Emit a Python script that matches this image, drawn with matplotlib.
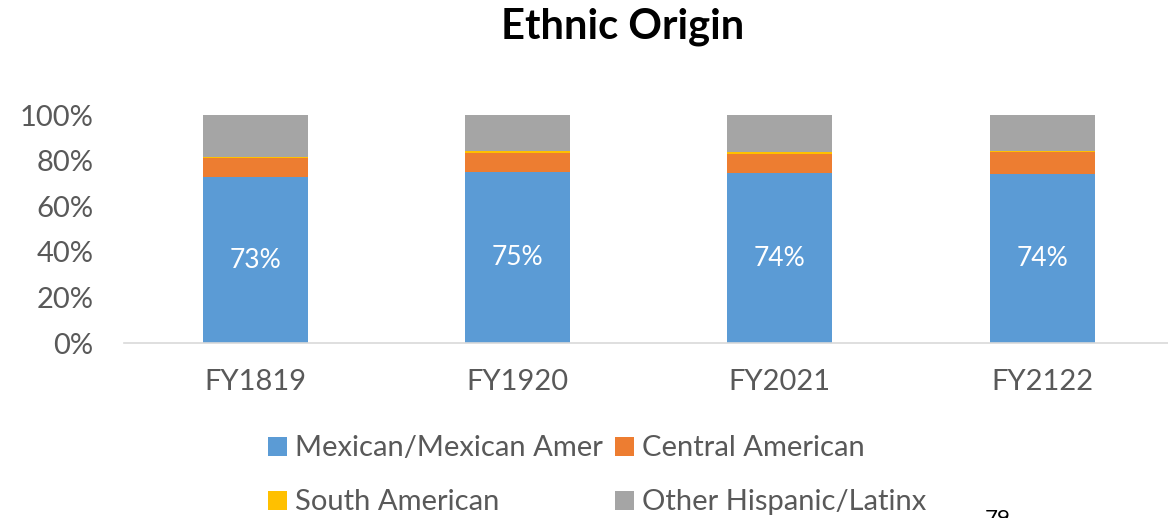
import matplotlib
matplotlib.use("Agg")
import matplotlib.pyplot as plt
from matplotlib.patches import Rectangle
from matplotlib.ticker import PercentFormatter

categories = ["FY1819", "FY1920", "FY2021", "FY2122"]
mexican = [72.8, 75.2, 74.4, 74.1]
central = [8.3, 8.3, 8.6, 9.8]
south = [0.6, 0.5, 0.8, 0.5]
other = [18.3, 16.0, 16.2, 15.6]
labels = ["73%", "75%", "74%", "74%"]
series_names = ["Mexican/Mexican Amer", "Central American", "South American", "Other Hispanic/Latinx"]
colors = ["#5B9BD5", "#ED7D31", "#FFC000", "#A5A5A5"]

plt.rcParams['font.family'] = ['Lato', 'DejaVu Sans']
TXT = "#595959"

W, H = 1168, 518
fig = plt.figure(figsize=(W / 100, H / 100), dpi=100)
ax = fig.add_axes([124 / W, 1 - 343 / H, (1168 - 124) / W, 228 / H])

x = list(range(len(categories)))
bottom = [0.0] * len(categories)
for vals, col in zip([mexican, central, south, other], colors):
    ax.bar(x, vals, width=0.4, bottom=bottom, color=col, edgecolor="none")
    bottom = [b + v for b, v in zip(bottom, vals)]

for xi, m, lab in zip(x, mexican, labels):
    ax.text(xi, m / 2, lab, ha="center", va="center", color="white", fontsize=19)

ax.set_xlim(-0.5, 3.48)
ax.set_ylim(0, 100)
ax.set_yticks([0, 20, 40, 60, 80, 100])
ax.yaxis.set_major_formatter(PercentFormatter(decimals=0))
ax.set_xticks(x)
ax.set_xticklabels(categories)
ax.tick_params(axis="both", length=0, labelsize=21, colors=TXT)
ax.tick_params(axis="x", pad=19)
ax.tick_params(axis="y", pad=22)
for s in ["top", "right", "left"]:
    ax.spines[s].set_visible(False)
ax.spines["bottom"].set_color("#D9D9D9")
ax.spines["bottom"].set_linewidth(1.2)

fig.text(623 / W, 1 - 27 / H, "Ethnic Origin", ha="center", va="center",
         fontsize=30, fontweight="bold", color="black")

# legend: 2 columns, 2 rows
leg_pos = [(268, 446), (615, 446), (268, 500), (615, 500)]
for (px, py), name, col in zip(leg_pos, series_names, colors):
    fig.patches.append(Rectangle((px / W, 1 - (py + 9.5) / H), 19 / W, 19 / H,
                                 transform=fig.transFigure, facecolor=col,
                                 edgecolor="none"))
    fig.text((px + 27) / W, 1 - (py + 2) / H, name, ha="left", va="center",
             fontsize=21, color=TXT)

fig.text(985 / W, 9 / H, "79", ha="left", va="top", fontsize=16, color="black")

fig.savefig("out.png", dpi=100)
